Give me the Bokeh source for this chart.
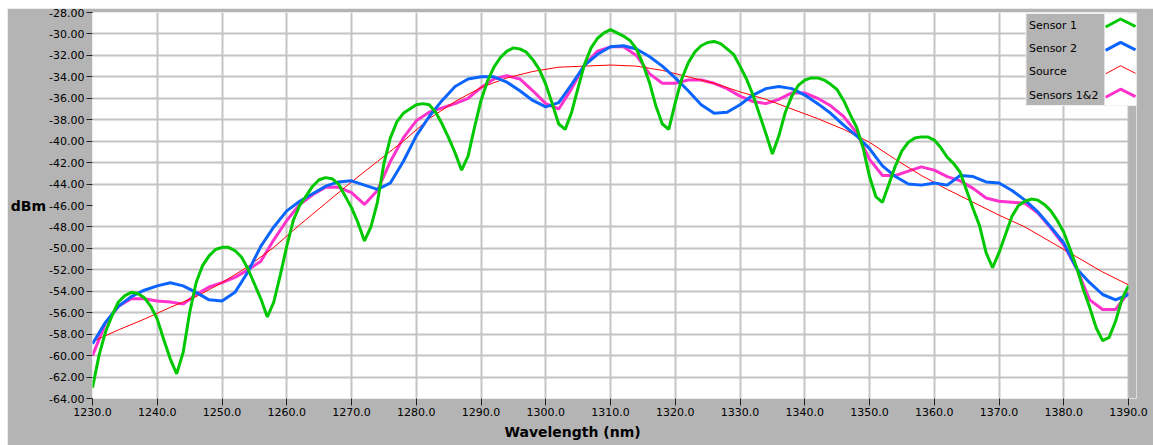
from bokeh.plotting import figure
from bokeh.models import Range1d, FixedTicker, NumeralTickFormatter, Title
from bokeh.core.properties import value
from bokeh.embed import file_html
from bokeh.resources import INLINE

# ---------------- data ----------------
series_names = ["Sensor 1", "Sensor 2", "Source", "Sensors 1&2"]

sensor1_nm = list(range(1230, 1391, 1))
sensor1_dbm = [
    -63.0, -60.0, -57.8, -56.3, -55.0, -54.4, -54.1, -54.2, -54.6, -55.4,
    -56.6, -58.5, -60.3, -61.7, -59.7, -56.0, -53.2, -51.6, -50.7, -50.1,
    -49.9, -49.9, -50.2, -50.8, -51.9, -53.3, -54.7, -56.4, -55.0, -52.5,
    -49.8, -47.4, -46.0, -45.1, -44.2, -43.6, -43.4, -43.5, -44.0, -45.1,
    -46.2, -47.6, -49.3, -48.0, -45.7, -42.1, -39.7, -38.2, -37.4, -37.0,
    -36.6, -36.5, -36.6, -37.3, -38.4, -39.7, -41.1, -42.7, -41.4, -38.7,
    -36.2, -34.4, -33.1, -32.2, -31.6, -31.3, -31.4, -31.7, -32.4, -33.3,
    -34.7, -36.5, -38.4, -38.9, -37.3, -35.0, -32.8, -31.3, -30.4, -29.9,
    -29.6, -29.9, -30.2, -30.6, -31.4, -32.8, -34.5, -36.7, -38.4, -38.9,
    -36.4, -34.2, -32.7, -31.7, -31.1, -30.8, -30.7, -30.9, -31.4, -31.9,
    -33.0, -34.2, -35.7, -37.5, -39.3, -41.2, -39.5, -37.3, -35.8, -34.8,
    -34.3, -34.1, -34.1, -34.3, -34.7, -35.2, -36.2, -37.5, -38.7, -40.6,
    -43.3, -45.2, -45.7, -44.0, -42.3, -40.9, -40.1, -39.7, -39.6, -39.6,
    -39.9, -40.6, -41.5, -42.1, -42.9, -44.6, -46.3, -47.9, -50.4, -51.8,
    -50.4, -48.7, -47.0, -46.0, -45.6, -45.4, -45.5, -45.9, -46.5, -47.4,
    -48.5, -50.1, -51.8, -53.8, -55.5, -57.4, -58.6, -58.3, -56.8, -54.7,
    -53.5,
]

sensor2_nm = list(range(1230, 1391, 2))
sensor2_dbm = [
    -58.9, -56.9, -55.4, -54.5, -53.9, -53.5, -53.2, -53.5, -54.1, -54.8,
    -54.9, -54.1, -52.2, -49.8, -48.0, -46.5, -45.6, -44.9, -44.2, -43.8,
    -43.7, -44.1, -44.5, -43.9, -41.9, -39.5, -37.7, -36.2, -34.9, -34.2,
    -34.0, -34.0, -34.5, -35.3, -36.2, -36.8, -36.4, -34.7, -32.9, -31.9,
    -31.2, -31.1, -31.4, -32.1, -33.0, -34.1, -35.3, -36.6, -37.4, -37.3,
    -36.6, -35.7, -35.1, -34.9, -35.1, -35.7, -36.5, -37.4, -38.5, -39.5,
    -40.7, -42.3, -43.3, -44.0, -44.1, -43.9, -44.1, -43.2, -43.3, -43.8,
    -43.9, -44.6, -45.5, -46.6, -48.0, -49.5, -51.9, -53.2, -54.3, -54.8,
    -54.3,
]

sensors12_nm = list(range(1230, 1391, 2))
sensors12_dbm = [
    -60.0, -57.0, -55.4, -54.7, -54.7, -54.9, -55.0, -55.2, -54.3, -53.6,
    -53.2, -52.7, -52.0, -51.2, -49.2, -47.4, -45.9, -45.0, -44.3, -44.3,
    -44.8, -45.9, -44.6, -41.9, -39.7, -38.1, -37.3, -36.9, -36.5, -36.0,
    -35.0, -34.2, -33.9, -34.2, -35.3, -36.5, -37.0, -35.1, -32.9, -31.6,
    -31.2, -31.2, -32.0, -33.7, -34.6, -34.6, -34.3, -34.3, -34.6, -35.1,
    -35.8, -36.3, -36.5, -36.1, -35.5, -35.5, -36.0, -36.7, -37.7, -39.2,
    -41.7, -43.2, -43.2, -42.8, -42.4, -42.7, -43.3, -43.7, -44.4, -45.3,
    -45.6, -45.7, -45.8, -46.7, -48.1, -49.7, -51.9, -54.8, -55.7, -55.7,
    -54.1,
]

source_nm = list(range(1230, 1391, 4))
source_dbm = [
    -58.7, -57.6, -56.6, -55.5, -54.5, -53.2, -51.7, -49.9, -47.8, -45.8,
    -43.8, -41.9, -40.0, -37.9, -36.3, -35.0, -34.1, -33.5, -33.1, -33.0,
    -32.9, -33.0, -33.4, -34.0, -34.6, -35.4, -36.1, -37.0, -37.9, -38.9,
    -40.1, -41.7, -43.2, -44.5, -45.7, -46.9, -48.0, -49.4, -50.8, -52.2,
    -53.4,
]

x_ticks = [1230, 1240, 1250, 1260, 1270, 1280, 1290, 1300, 1310, 1320,
           1330, 1340, 1350, 1360, 1370, 1380, 1390]
y_ticks = [-64, -62, -60, -58, -56, -54, -52, -50, -48, -46, -44, -42,
           -40, -38, -36, -34, -32, -30, -28]
y_grid_ticks = [t for t in y_ticks if t != -46]

x_label = "Wavelength (nm)"
y_label = "dBm"

# ---------------- styles ----------------
BG = "#b4b4b4"
GRID = "#c4c4c4"
C_S1 = "#00c800"
C_S2 = "#0a64ff"
C_SRC = "#ff0000"
C_S12 = "#ff33cc"
FONT = "DejaVu Sans"

p = figure(
    width=1146, height=437, margin=(8, 0, 0, 7),
    output_backend="svg", toolbar_location=None,
    x_range=Range1d(1230, 1230 + 1048 / 6.5), y_range=Range1d(-64, -28),
    min_border_left=81, min_border_right=17, min_border_top=4, min_border_bottom=47,
)
# helper ranges in page pixels (for the legend)
p.extra_x_ranges = {"px": Range1d(88, 1136)}
p.extra_y_ranges = {"px": Range1d(398, 12)}

p.background_fill_color = "white"
p.border_fill_color = BG
p.outline_line_color = None

for ax in (p.xaxis[0], p.yaxis[0]):
    ax.axis_line_color = None
    ax.minor_tick_line_color = None
    ax.major_tick_in = 0
    ax.major_tick_line_color = "#202020"
    ax.major_label_text_font = FONT
    ax.major_label_text_font_size = "11px"
    ax.major_label_text_color = "black"

p.xaxis.ticker = FixedTicker(ticks=x_ticks)
p.xaxis.formatter = NumeralTickFormatter(format="0.0")
p.xaxis.major_tick_out = 7
p.xaxis.major_label_standoff = 2

p.yaxis.ticker = FixedTicker(ticks=y_ticks)
p.yaxis.formatter = NumeralTickFormatter(format="0.00")
p.yaxis.major_tick_out = 6
p.yaxis.major_label_standoff = 2
p.yaxis.axis_label = y_label
p.yaxis.axis_label_orientation = "horizontal"
p.yaxis.axis_label_standoff = 0
p.yaxis.axis_label_text_font = FONT
p.yaxis.axis_label_text_font_size = "14px"
p.yaxis.axis_label_text_font_style = "bold"
p.yaxis.axis_label_text_color = "black"

p.add_layout(Title(text=x_label, align="left", offset=412, standoff=6,
                   text_font=FONT, text_font_size="14px", text_font_style="bold",
                   text_color="black"), "below")

p.xgrid.ticker = FixedTicker(ticks=x_ticks)
p.ygrid.ticker = FixedTicker(ticks=y_grid_ticks)
p.grid.grid_line_color = GRID
p.grid.grid_line_width = 2

# ---------------- series ----------------
p.line(sensors12_nm, sensors12_dbm, line_color=C_S12, line_width=3)
p.line(source_nm, source_dbm, line_color=C_SRC, line_width=1)
p.line(sensor2_nm, sensor2_dbm, line_color=C_S2, line_width=3)
p.line(sensor1_nm, sensor1_dbm, line_color=C_S1, line_width=3)

# grey strip right of the 1390 edge (frame is slightly wider so the legend can overhang)
p.quad(left=[1128], right=[1136], top=[12], bottom=[398], fill_color=BG,
       line_color=None, x_range_name="px", y_range_name="px")

# ---------------- legend ----------------
p.quad(left=[1025], right=[1104], top=[13], bottom=[105], fill_color=BG,
       line_color=None, x_range_name="px", y_range_name="px")
p.quad(left=[1104], right=[1136], top=[13], bottom=[105], fill_color="white",
       line_color=None, x_range_name="px", y_range_name="px")
p.quad(left=[1025], right=[1136], top=[13], bottom=[105], fill_color=None,
       line_color="#f2f2f2", line_width=1, x_range_name="px", y_range_name="px")

row_y = [24.5 + 23.4 * i for i in range(4)]
p.text(x=[1028] * 4, y=row_y, text=series_names, text_font=value(FONT),
       text_font_size="11px", text_color="black", text_baseline="middle",
       text_align="left", x_range_name="px", y_range_name="px")
for cy, col, lw in zip(row_y, [C_S1, C_S2, C_SRC, C_S12], [3, 3, 1, 3]):
    p.line(x=[1105, 1120, 1135], y=[cy + 2, cy - 6, cy + 1.5], line_color=col,
           line_width=lw, x_range_name="px", y_range_name="px")

open("out.html", "w").write(file_html(p, INLINE))
